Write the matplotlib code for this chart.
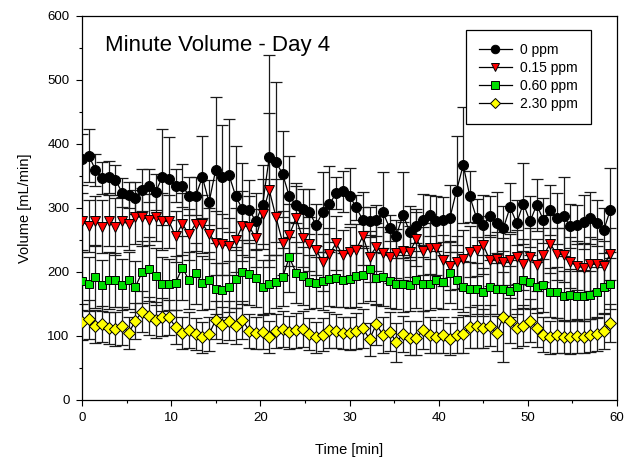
import numpy as np
import matplotlib
matplotlib.use("Agg")
import matplotlib.pyplot as plt

plt.rcParams['font.family'] = ['Liberation Sans', 'DejaVu Sans']

# Sampling: one reading every 0.75 min, 80 readings
time_min = [i * 0.75 for i in range(80)]

vol_0ppm = [376, 382, 360, 347, 348, 344, 324, 320, 315, 328,
            335, 325, 348, 346, 335, 335, 319, 319, 348, 309,
            360, 349, 351, 318, 298, 297, 279, 305, 379, 372,
            353, 318, 305, 299, 294, 273, 294, 306, 323, 326,
            319, 301, 281, 280, 281, 293, 269, 257, 289, 263,
            272, 282, 289, 280, 282, 284, 327, 367, 318, 284,
            274, 287, 277, 268, 301, 277, 307, 279, 305, 281,
            297, 284, 287, 272, 274, 278, 284, 276, 265, 297]
err_0ppm = [40, 42, 25, 25, 25, 23, 23, 20, 25, 33,
            26, 28, 75, 65, 26, 33, 30, 30, 64, 35,
            114, 81, 88, 79, 72, 47, 45, 62, 160, 125,
            67, 63, 29, 30, 35, 33, 62, 59, 25, 32,
            44, 20, 44, 22, 24, 63, 20, 25, 67, 40,
            27, 40, 32, 38, 35, 52, 85, 91, 40, 30,
            47, 32, 48, 35, 38, 35, 63, 40, 41, 35,
            39, 40, 62, 35, 31, 42, 41, 36, 35, 65]

vol_015ppm = [279, 272, 280, 271, 280, 271, 279, 275, 286, 286,
              282, 286, 279, 279, 256, 275, 259, 275, 275, 260,
              246, 243, 240, 250, 272, 271, 253, 291, 328, 286,
              246, 258, 284, 253, 244, 235, 215, 228, 245, 226,
              232, 235, 256, 224, 239, 229, 223, 229, 233, 232,
              251, 233, 237, 238, 218, 210, 215, 220, 232, 235,
              242, 218, 221, 215, 219, 224, 212, 224, 211, 226,
              244, 228, 227, 215, 210, 206, 212, 212, 210, 228]
err_015ppm = [45, 40, 38, 42, 40, 45, 38, 40, 42, 45,
              40, 38, 45, 42, 40, 48, 40, 42, 45, 40,
              50, 48, 45, 50, 55, 48, 45, 55, 120, 60,
              50, 48, 55, 45, 42, 40, 45, 40, 42, 40,
              38, 40, 45, 40, 38, 42, 40, 38, 45, 40,
              42, 38, 40, 42, 40, 38, 42, 45, 40, 42,
              45, 40, 42, 38, 40, 42, 40, 45, 40, 42,
              45, 40, 42, 40, 38, 40, 42, 40, 38, 40]

vol_060ppm = [186, 181, 192, 179, 187, 187, 180, 187, 177, 200,
              205, 193, 181, 181, 183, 207, 187, 198, 183, 187,
              174, 172, 177, 189, 200, 197, 191, 176, 181, 185,
              192, 223, 199, 194, 184, 183, 186, 189, 190, 188,
              189, 194, 196, 205, 190, 192, 186, 182, 182, 179,
              188, 181, 181, 188, 184, 199, 187, 177, 173, 174,
              169, 176, 174, 173, 170, 177, 188, 184, 176, 179,
              168, 168, 163, 164, 163, 163, 164, 168, 176, 182]
err_060ppm = [45, 42, 48, 40, 45, 42, 40, 45, 40, 48,
              50, 45, 42, 40, 42, 50, 45, 48, 42, 45,
              40, 42, 40, 45, 50, 48, 45, 42, 45, 42,
              45, 55, 48, 45, 42, 40, 45, 42, 45, 42,
              45, 48, 45, 50, 42, 45, 42, 40, 45, 40,
              45, 42, 40, 45, 42, 48, 45, 40, 42, 40,
              38, 42, 40, 42, 40, 42, 45, 42, 40, 42,
              38, 40, 38, 40, 38, 40, 38, 40, 42, 40]

vol_230ppm = [122, 126, 115, 119, 112, 111, 116, 105, 124, 138,
              131, 125, 130, 129, 114, 104, 109, 103, 98, 103,
              125, 117, 124, 116, 125, 108, 104, 106, 99, 108,
              111, 106, 109, 111, 103, 98, 102, 109, 108, 104,
              104, 108, 112, 95, 118, 102, 107, 90, 103, 97,
              97, 109, 102, 99, 101, 96, 102, 103, 114, 115,
              112, 116, 104, 130, 124, 112, 116, 124, 113, 102,
              98, 101, 98, 98, 100, 98, 101, 103, 108, 120]
err_230ppm = [28, 30, 26, 28, 25, 27, 30, 25, 28, 32,
              30, 28, 30, 28, 26, 25, 28, 25, 24, 26,
              30, 28, 30, 28, 30, 26, 25, 27, 25, 27,
              28, 26, 27, 28, 25, 24, 26, 28, 27, 25,
              26, 28, 30, 26, 32, 28, 30, 30, 28, 26,
              27, 30, 28, 26, 28, 25, 28, 30, 32, 34,
              30, 32, 28, 70, 35, 30, 32, 34, 30, 27,
              26, 27, 25, 26, 27, 25, 26, 27, 28, 30]

labels = ["0 ppm", "0.15 ppm", "0.60 ppm", "2.30 ppm"]
series = [
    (vol_0ppm, err_0ppm, "o", "black", 7.2),
    (vol_015ppm, err_015ppm, "v", "#ff0000", 7.4),
    (vol_060ppm, err_060ppm, "s", "#00e000", 6.3),
    (vol_230ppm, err_230ppm, "D", "#ffff00", 6.3),
]

fig = plt.figure(figsize=(6.24, 4.65), dpi=100)
ax = fig.add_axes([0.1314, 0.1398, 0.8574, 0.8258])

x = np.array(time_min)
for vals, errs, mk, col, ms in series:
    ax.errorbar(x, vals, yerr=errs, fmt="none", ecolor="#1a1a1a",
                elinewidth=0.9, capsize=4.0, capthick=0.9, zorder=2)

for (vals, errs, mk, col, ms), lab in zip(series, labels):
    ax.plot(x, vals, color="black", lw=0.9, marker=mk, markersize=ms,
            markerfacecolor=col, markeredgecolor="black",
            markeredgewidth=0.7, label=lab, zorder=3)

ax.set_xlim(0, 60)
ax.set_ylim(0, 600)
ax.set_xticks(np.arange(0, 61, 10))
ax.set_yticks(np.arange(0, 601, 100))
ax.set_xticks(np.arange(5, 60, 10), minor=True)
ax.set_yticks(np.arange(50, 600, 100), minor=True)
ax.tick_params(which="major", direction="out", length=4, width=0.8,
               labelsize=9.5, pad=5)
ax.tick_params(which="minor", direction="out", length=2.5, width=0.8)
for sp in ax.spines.values():
    sp.set_linewidth(0.9)

ax.set_xlabel("Time [min]", fontsize=10.5, labelpad=13)
ax.set_ylabel("Volume [mL/min]", fontsize=10.5, labelpad=11)

ax.text(0.043, 0.924, "Minute Volume - Day 4", transform=ax.transAxes,
        fontsize=16, va="center", ha="left")

leg = ax.legend(loc="upper left", bbox_to_anchor=(0.718, 0.963),
                fontsize=10, frameon=True, fancybox=False,
                edgecolor="black", framealpha=1, handlelength=2.4,
                borderpad=0.9, labelspacing=0.3, handletextpad=0.6,
                borderaxespad=0, markerscale=0.85)
leg.get_frame().set_linewidth(0.9)

fig.savefig("out.png", dpi=100)
